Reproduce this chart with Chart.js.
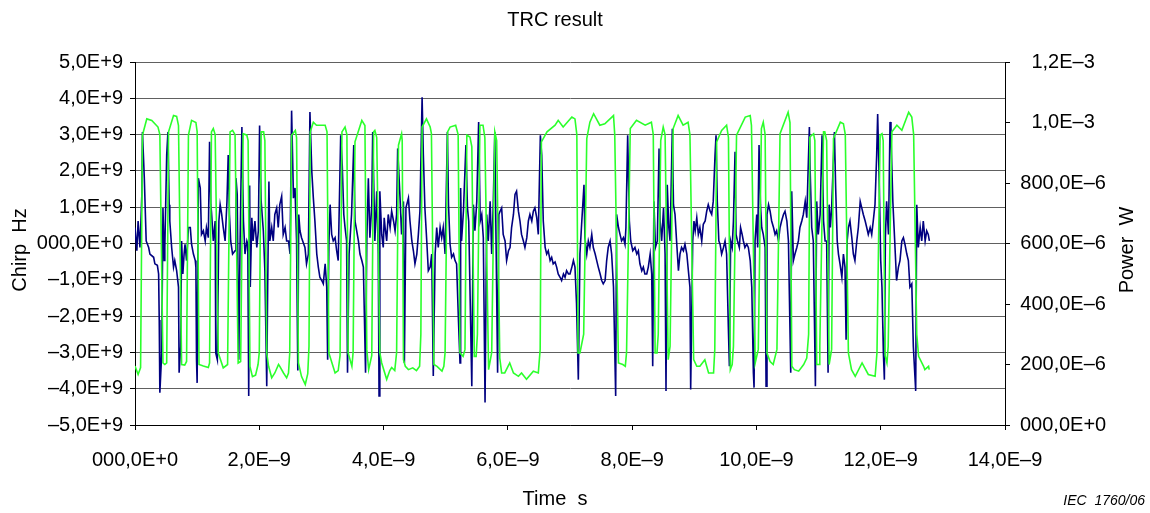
<!DOCTYPE html>
<html>
<head>
<meta charset="utf-8">
<title>TRC result</title>
<script src="https://cdn.jsdelivr.net/npm/chart.js@4/dist/chart.umd.min.js"></script>
<style>
  body { margin: 0; background: #fff; }
  canvas { display: block; }
</style>
</head>
<body>
<canvas id="trc-canvas" width="1150" height="513"></canvas>
<script>
// time in ns, chirp in GHz (1E+9 Hz), power in uW (1E-6 W)
const timeTicks = ['000,0E+0', '2,0E\u20139', '4,0E\u20139', '6,0E\u20139', '8,0E\u20139', '10,0E\u20139', '12,0E\u20139', '14,0E\u20139']
const chirpTicks = ['\u20135,0E+9', '\u20134,0E+9', '\u20133,0E+9', '\u20132,0E+9', '\u20131,0E+9', '000,0E+0', '1,0E+9', '2,0E+9', '3,0E+9', '4,0E+9', '5,0E+9']
const powerTicks = ['000,0E+0', '200,0E\u20136', '400,0E\u20136', '600,0E\u20136', '800,0E\u20136', '1,0E\u20133', '1,2E\u20133']

const powerPoints = [
  [0.00,195],[0.05,167],[0.09,190],[0.12,958],[0.19,1012],[0.27,1007],[0.37,985],[0.40,960],[0.45,205],[0.48,200],
  [0.51,205],[0.54,969],[0.62,1023],[0.67,1020],[0.70,990],[0.75,200],[0.80,198],[0.83,210],[0.86,958],[0.91,1007],
  [0.98,1000],[1.00,970],[1.03,200],[1.10,195],[1.18,190],[1.20,205],[1.23,969],[1.26,980],[1.29,960],[1.34,238],
  [1.42,189],[1.49,200],[1.53,969],[1.57,974],[1.61,960],[1.66,205],[1.70,210],[1.74,963],[1.80,958],[1.82,940],
  [1.85,194],[1.89,160],[1.94,165],[1.98,200],[2.00,240],[2.03,969],[2.07,969],[2.09,940],[2.12,238],[2.15,194],
  [2.20,156],[2.25,172],[2.31,200],[2.33,194],[2.39,172],[2.44,156],[2.47,172],[2.49,238],[2.52,958],[2.58,974],
  [2.60,950],[2.63,205],[2.68,160],[2.74,134],[2.78,170],[2.80,260],[2.82,969],[2.87,1001],[2.92,991],[3.06,991],
  [3.09,969],[3.12,238],[3.22,172],[3.27,180],[3.30,230],[3.33,969],[3.38,985],[3.41,960],[3.43,238],[3.49,194],
  [3.51,240],[3.54,936],[3.65,1007],[3.70,990],[3.73,250],[3.76,183],[3.81,230],[3.84,969],[3.86,974],[3.89,950],
  [3.94,238],[3.97,205],[4.05,151],[4.10,180],[4.13,190],[4.18,180],[4.21,240],[4.24,925],[4.29,963],[4.30,940],
  [4.32,216],[4.35,194],[4.40,183],[4.47,189],[4.53,180],[4.58,194],[4.60,300],[4.62,985],[4.69,1012],[4.75,985],
  [4.77,963],[4.81,200],[4.86,194],[4.94,178],[4.97,194],[4.99,240],[5.03,969],[5.07,985],[5.16,991],[5.20,960],
  [5.23,238],[5.28,227],[5.31,250],[5.34,958],[5.39,952],[5.42,920],[5.46,227],[5.49,227],[5.51,300],[5.55,991],
  [5.60,991],[5.63,950],[5.69,183],[5.74,240],[5.79,969],[5.82,940],[5.87,221],[5.90,172],[5.95,172],[6.03,205],
  [6.09,172],[6.17,161],[6.22,172],[6.30,151],[6.41,178],[6.49,172],[6.52,250],[6.54,936],[6.63,969],[6.76,991],
  [6.81,1007],[6.89,985],[7.03,1018],[7.08,1012],[7.11,960],[7.13,238],[7.16,238],[7.22,300],[7.27,947],[7.32,1001],
  [7.38,1029],[7.48,991],[7.56,996],[7.70,1023],[7.72,960],[7.78,205],[7.85,200],[7.89,194],[7.91,240],[7.97,980],
  [8.07,1007],[8.21,991],[8.31,1001],[8.34,960],[8.37,238],[8.40,238],[8.42,300],[8.46,940],[8.50,985],[8.53,960],
  [8.58,216],[8.61,260],[8.66,980],[8.74,1023],[8.82,991],[8.90,1001],[8.93,960],[8.99,216],[9.04,194],[9.09,194],
  [9.17,216],[9.23,172],[9.31,172],[9.33,250],[9.36,936],[9.44,974],[9.52,991],[9.55,950],[9.58,183],[9.61,200],
  [9.63,260],[9.68,958],[9.82,1018],[9.90,1023],[9.92,990],[9.98,205],[10.03,250],[10.08,980],[10.11,1001],[10.14,960],
  [10.17,238],[10.22,210],[10.27,200],[10.33,250],[10.38,963],[10.49,1023],[10.51,1034],[10.54,1000],[10.57,194],[10.61,183],
  [10.68,178],[10.76,200],[10.81,221],[10.84,300],[10.86,952],[10.92,963],[10.94,940],[10.97,200],[11.01,200],[11.02,260],
  [11.08,969],[11.10,969],[11.13,940],[11.17,200],[11.21,250],[11.24,947],[11.35,1001],[11.40,996],[11.43,960],[11.48,238],
  [11.53,183],[11.59,161],[11.70,205],[11.80,167],[11.91,161],[11.94,240],[11.99,958],[12.02,963],[12.04,940],[12.07,230],
  [12.10,205],[12.12,260],[12.18,969],[12.26,991],[12.34,974],[12.45,1034],[12.50,1018],[12.53,960],[12.58,300],[12.61,227],
  [12.69,194],[12.71,183],[12.77,194],[12.78,183]
]

const chirpPoints = [
  [0.00,0.44],[0.03,-0.2],[0.05,0.62],[0.08,-0.11],[0.09,0.35],[0.11,1.35],[0.12,3.07],[0.15,1.8],[0.18,0.07],[0.22,-0.11],
  [0.24,-0.29],[0.30,-0.38],[0.32,-0.56],[0.36,-0.6],[0.38,-0.84],[0.39,-2.11],[0.40,-4.11],[0.43,-3.02],[0.45,0.98],[0.47,-0.47],
  [0.48,-0.11],[0.51,2.44],[0.53,3.07],[0.55,1.07],[0.56,0.62],[0.59,-0.11],[0.62,-0.65],[0.64,-0.47],[0.67,-0.75],[0.70,-1.2],
  [0.71,-3.56],[0.735,-2.84],[0.75,0.07],[0.77,-0.84],[0.79,-0.29],[0.805,-0.02],[0.83,-0.47],[0.86,0.44],[0.89,0.44],[0.91,-0.02],
  [0.94,-0.29],[0.97,-0.47],[0.98,-0.65],[0.99,-3.2],[1.00,-3.84],[1.02,1.8],[1.05,1.53],[1.07,0.25],[1.10,0.35],[1.13,0.07],
  [1.15,0.44],[1.18,0.16],[1.20,2.8],[1.22,1.07],[1.23,0.89],[1.26,0.07],[1.29,0.62],[1.30,-3.02],[1.325,-3.2],[1.35,0.62],
  [1.37,1.07],[1.395,0.8],[1.42,0.44],[1.45,0.07],[1.48,1.16],[1.50,2.44],[1.52,0.8],[1.54,0.07],[1.57,-0.29],[1.61,-0.2],
  [1.625,1.8],[1.645,1.35],[1.67,-3.2],[1.69,-0.11],[1.72,3.21],[1.745,0.62],[1.77,-0.29],[1.80,0.07],[1.815,-0.02],[1.83,-4.2],
  [1.845,1.6],[1.855,-1.2],[1.88,0.71],[1.90,0.07],[1.93,0.62],[1.96,-0.11],[1.985,0.35],[2.005,3.25],[2.03,1.16],[2.065,0.35],
  [2.09,-0.75],[2.12,-3.93],[2.135,-1.2],[2.155,1.71],[2.17,0.07],[2.20,0.44],[2.225,0.07],[2.25,0.8],[2.28,0.98],[2.305,0.44],
  [2.33,1.07],[2.36,1.3],[2.385,0.25],[2.415,0.44],[2.44,0.07],[2.47,0.07],[2.495,-0.29],[2.52,3.66],[2.55,1.25],[2.575,1.53],
  [2.60,0.07],[2.62,-3.5],[2.635,0.8],[2.655,0.35],[2.68,0.16],[2.735,-0.11],[2.76,-0.56],[2.79,-0.29],[2.815,3.62],[2.845,1.98],
  [2.87,1.25],[2.895,0.62],[2.925,-0.29],[2.95,-0.65],[2.975,-0.93],[3.005,-1.02],[3.03,-1.11],[3.06,-0.56],[3.085,-1.2],[3.10,-3.2],
  [3.12,0.0],[3.14,1.07],[3.165,0.25],[3.19,0.07],[3.22,0.16],[3.245,-0.2],[3.27,-0.47],[3.31,2.98],[3.335,2.15],[3.36,0.8],
  [3.38,0.44],[3.405,0.07],[3.42,-3.56],[3.445,-0.29],[3.485,0.8],[3.52,2.71],[3.54,0.62],[3.595,0.07],[3.62,-0.29],[3.65,-0.47],
  [3.675,-0.65],[3.71,-3.56],[3.73,0.07],[3.755,1.8],[3.78,0.16],[3.81,1.07],[3.825,3.07],[3.86,0.07],[3.89,1.44],[3.915,-0.29],
  [3.927,-4.2],[3.94,1.44],[3.97,0.25],[3.995,-0.11],[4.01,0.71],[4.025,0.44],[4.05,0.07],[4.075,0.8],[4.105,0.44],[4.13,0.89],
  [4.16,0.62],[4.185,0.35],[4.21,0.8],[4.227,2.62],[4.265,1.25],[4.29,0.25],[4.32,1.16],[4.335,-3.29],[4.36,0.98],[4.40,1.25],
  [4.425,0.62],[4.455,0.07],[4.48,-0.2],[4.505,-0.56],[4.535,-0.29],[4.56,0.25],[4.585,0.89],[4.62,4.03],[4.64,2.44],[4.665,0.98],
  [4.695,0.07],[4.72,-0.75],[4.75,-0.65],[4.775,-0.29],[4.80,-3.65],[4.83,-0.29],[4.855,0.44],[4.88,-0.11],[4.91,0.44],[4.935,0.16],
  [4.96,0.44],[4.99,-0.29],[5.027,3.07],[5.045,1.07],[5.07,-0.02],[5.095,-0.38],[5.125,-0.29],[5.15,-0.47],[5.175,-0.56],[5.205,-2.11],
  [5.23,-3.29],[5.24,1.53],[5.255,0.07],[5.285,0.89],[5.325,2.71],[5.35,0.98],[5.37,0.62],[5.42,-3.93],[5.445,1.07],[5.47,0.35],
  [5.50,1.16],[5.53,3.35],[5.555,0.62],[5.58,0.8],[5.605,0.16],[5.633,-4.38],[5.66,0.8],[5.685,0.07],[5.715,1.16],[5.74,-0.29],
  [5.765,1.07],[5.79,3.07],[5.81,0.07],[5.835,-3.56],[5.855,0.8],[5.875,0.89],[5.90,0.98],[5.925,0.25],[5.955,0.07],[5.98,-0.47],
  [6.01,-0.2],[6.035,-0.11],[6.06,0.44],[6.09,0.8],[6.115,1.35],[6.14,1.44],[6.17,0.89],[6.195,0.62],[6.22,0.25],[6.25,0.07],
  [6.275,-0.11],[6.305,0.16],[6.33,0.62],[6.355,0.8],[6.385,0.62],[6.41,0.89],[6.435,0.98],[6.465,0.71],[6.49,0.25],[6.523,2.98],
  [6.545,2.44],[6.57,0.62],[6.60,-0.11],[6.625,-0.29],[6.65,-0.2],[6.68,-0.47],[6.705,-0.38],[6.73,-0.56],[6.76,-0.51],[6.785,-0.65],
  [6.81,-0.84],[6.84,-0.93],[6.865,-1.02],[6.895,-0.84],[6.92,-0.93],[6.945,-0.75],[6.975,-0.84],[7.00,-0.84],[7.03,-0.65],[7.055,-0.47],
  [7.08,-0.65],[7.105,-1.65],[7.134,-3.75],[7.16,-0.29],[7.19,0.62],[7.225,1.62],[7.24,0.16],[7.27,-0.29],[7.295,0.07],[7.32,-0.11],
  [7.35,0.25],[7.375,-0.11],[7.405,-0.29],[7.43,-0.47],[7.455,-0.65],[7.485,-0.84],[7.51,-1.02],[7.535,-1.11],[7.565,-1.02],[7.59,-0.47],
  [7.615,-0.11],[7.645,0.07],[7.67,-0.29],[7.70,-1.2],[7.735,-4.2],[7.75,0.8],[7.78,0.44],[7.805,0.25],[7.83,0.07],[7.86,0.16],
  [7.885,-0.02],[7.90,0.44],[7.928,2.98],[7.955,0.62],[7.977,0.07],[8.01,-0.2],[8.045,-0.11],[8.075,-0.29],[8.10,-0.2],[8.125,-0.56],
  [8.155,-0.75],[8.18,-0.65],[8.205,-0.84],[8.235,-0.84],[8.26,-0.65],[8.29,-0.29],[8.315,-0.84],[8.331,-3.38],[8.35,1.16],[8.375,-0.11],
  [8.405,0.07],[8.433,2.62],[8.45,0.62],[8.475,0.07],[8.505,0.98],[8.53,-0.29],[8.545,-4.06],[8.565,1.62],[8.59,0.44],[8.61,0.07],
  [8.647,3.16],[8.665,1.07],[8.69,0.8],[8.715,0.07],[8.745,-0.75],[8.77,-0.29],[8.795,-0.11],[8.825,-0.2],[8.85,-0.02],[8.88,-0.29],
  [8.905,-0.75],[8.93,-1.2],[8.942,-4.02],[8.975,0.07],[8.995,0.62],[9.015,0.35],[9.04,0.71],[9.065,0.25],[9.09,0.44],[9.12,0.07],
  [9.145,0.53],[9.175,0.62],[9.20,0.89],[9.225,1.07],[9.255,0.89],[9.28,0.8],[9.305,1.16],[9.334,2.44],[9.35,2.98],[9.37,1.16],
  [9.395,0.07],[9.415,-0.02],[9.44,-0.29],[9.47,-0.11],[9.495,0.07],[9.52,-0.29],[9.548,-2.29],[9.565,-3.38],[9.585,0.07],[9.61,-0.11],
  [9.63,0.62],[9.656,2.53],[9.672,0.25],[9.695,0.07],[9.725,-0.11],[9.745,0.44],[9.77,0.25],[9.79,0.07],[9.815,-0.11],[9.845,-0.02],
  [9.87,-0.11],[9.90,-0.47],[9.925,-1.2],[9.951,-3.56],[9.962,-3.97],[9.978,0.07],[10.005,0.8],[10.02,-0.11],[10.042,2.71],[10.065,1.07],
  [10.085,0.44],[10.11,0.25],[10.14,-0.11],[10.155,-3.93],[10.17,0.8],[10.195,1.07],[10.22,0.89],[10.245,0.62],[10.275,0.44],[10.30,0.25],
  [10.325,0.35],[10.355,0.07],[10.38,0.44],[10.405,0.62],[10.435,0.8],[10.46,0.89],[10.49,0.62],[10.515,0.07],[10.552,-3.56],[10.568,1.44],
  [10.595,-0.47],[10.62,-0.29],[10.65,-0.11],[10.675,0.07],[10.70,0.44],[10.73,0.62],[10.755,0.8],[10.785,1.16],[10.81,0.71],[10.852,3.21],
  [10.865,1.98],[10.89,0.44],[10.915,0.07],[10.949,-3.93],[10.97,1.16],[10.995,0.25],[11.025,0.8],[11.056,2.98],[11.08,0.62],[11.105,0.07],
  [11.13,0.07],[11.153,-3.56],[11.17,1.07],[11.19,0.44],[11.21,0.98],[11.255,3.07],[11.275,1.53],[11.30,0.07],[11.32,-0.29],[11.345,-0.56],
  [11.375,-0.93],[11.40,-0.29],[11.425,-0.65],[11.443,-2.65],[11.46,0.07],[11.48,0.44],[11.505,0.62],[11.535,0.16],[11.56,-0.29],[11.585,-0.47],
  [11.615,0.07],[11.64,0.44],[11.67,1.16],[11.695,0.98],[11.72,0.8],[11.75,0.62],[11.775,0.44],[11.80,0.25],[11.83,0.44],[11.855,0.25],
  [11.88,0.62],[11.908,1.07],[11.935,2.44],[11.951,3.57],[11.978,1.53],[12.00,-0.47],[12.02,-1.2],[12.043,-3.02],[12.059,-3.75],[12.075,0.16],
  [12.095,1.16],[12.125,0.25],[12.15,3.35],[12.165,2.98],[12.195,1.16],[12.215,0.44],[12.235,-0.29],[12.255,-1.02],[12.285,-0.65],[12.31,-0.47],
  [12.34,0.07],[12.365,0.16],[12.39,-0.02],[12.42,-0.29],[12.445,-0.47],[12.47,-1.2],[12.50,-1.11],[12.525,-2.84],[12.563,-4.06],[12.58,1.07],
  [12.605,-0.11],[12.635,0.44],[12.66,0.07],[12.685,0.62],[12.715,0.07],[12.74,0.35],[12.765,0.25],[12.783,0.07]
]

const fontFamily = '"Liberation Sans", Arial, sans-serif'
Chart.defaults.font.family = fontFamily
Chart.defaults.font.size = 20
Chart.defaults.color = '#000'

const textPlugin = {
  id: 'figureText',
  afterDraw(chart) {
    const ctx = chart.ctx
    ctx.save()
    ctx.fillStyle = '#000'
    ctx.font = '20px ' + fontFamily
    ctx.textAlign = 'center'
    ctx.textBaseline = 'middle'
    ctx.fillText('TRC result', 555, 20)
    ctx.fillText('Time  s', 555, 499)

    ctx.save()
    ctx.translate(20, 250)
    ctx.rotate(-Math.PI / 2)
    ctx.fillText('Chirp  Hz', 0, 0)
    ctx.restore()

    ctx.save()
    ctx.translate(1127, 250)
    ctx.rotate(-Math.PI / 2)
    ctx.fillText('Power  W', 0, 0)
    ctx.restore()

    ctx.font = 'italic 14px ' + fontFamily
    ctx.textAlign = 'right'
    ctx.fillText('IEC  1760/06', 1145, 501)
    ctx.restore()
  }
}

const data = {
  datasets: [{
    label: 'Power',
    data: powerPoints.map(p => ({ x: p[0], y: p[1] })),
    borderColor: '#2bff2b',
    borderWidth: 1.6,
    yAxisID: 'yPower'
  },
  {
    label: 'Chirp',
    data: chirpPoints.map(p => ({ x: p[0], y: p[1] })),
    borderColor: '#000080',
    borderWidth: 1.6,
    yAxisID: 'yChirp'
  }]
}

const config = {
  type: 'line',
  data: data,
  options: {
    responsive: false,
    animation: false,
    events: [],
    layout: { padding: { top: 62, left: 0, right: 0, bottom: 0 } },
    elements: { point: { radius: 0 }, line: { tension: 0 } },
    plugins: { legend: { display: false }, tooltip: { enabled: false } },
    scales: {
      x: {
        type: 'linear',
        min: 0,
        max: 14,
        afterFit(s) { s.height = 88 },
        border: { color: '#000', width: 1 },
        grid: { drawOnChartArea: false, tickLength: 5, tickColor: '#000' },
        ticks: { stepSize: 2, padding: 18, maxRotation: 0, callback: (v, i) => timeTicks[i] }
      },
      yChirp: {
        position: 'left',
        min: -5,
        max: 5,
        afterFit(s) { s.width = 135 },
        border: { color: '#000', width: 1 },
        grid: { color: '#606060', tickLength: 5, tickColor: '#000' },
        ticks: { stepSize: 1, padding: 7, callback: (v, i) => chirpTicks[i] }
      },
      yPower: {
        position: 'right',
        min: 0,
        max: 1200,
        afterFit(s) { s.width = 145 },
        border: { color: '#000', width: 1 },
        grid: { drawOnChartArea: false, tickLength: 5, tickColor: '#000' },
        ticks: { stepSize: 200, padding: 10, crossAlign: 'center', callback: (v, i) => powerTicks[i] }
      }
    }
  },
  plugins: [textPlugin]
}

globalThis.trcChart = new Chart(document.getElementById('trc-canvas'), config)
</script>
</body>
</html>
